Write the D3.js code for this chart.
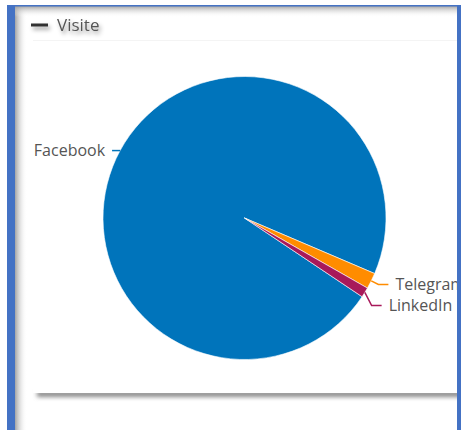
<!DOCTYPE html>
<html>
<head>
<meta charset="utf-8">
<script src="https://cdn.jsdelivr.net/npm/d3@7"></script>
<style>
  html, body { margin: 0; padding: 0; background: #fff; }
  svg { display: block; }
</style>
</head>
<body>
<div id="chart"></div>
<script>
// ---- data ----
const seriesName = "Visite";
const categories = ["Facebook", "Telegram", "LinkedIn"];
const values = [1700, 32, 20];
const colors = ["#0074bb", "#ff8c00", "#a8195a"];

const W = 461, H = 430;
const svg = d3.select("#chart").append("svg").attr("width", W).attr("height", H);
const defs = svg.append("defs");

// filters / gradients
const fBlur = defs.append("filter").attr("id", "blurShadow")
  .attr("x", "-5%").attr("y", "-200%").attr("width", "110%").attr("height", "500%");
fBlur.append("feGaussianBlur").attr("stdDeviation", 2.2);

const fText = defs.append("filter").attr("id", "textShadow")
  .attr("x", "-30%").attr("y", "-50%").attr("width", "160%").attr("height", "220%");
fText.append("feDropShadow").attr("dx", 2).attr("dy", 3).attr("stdDeviation", 2.2)
  .attr("flood-color", "#000").attr("flood-opacity", 0.4);

const gLeft = defs.append("linearGradient").attr("id", "gLeft").attr("x1", 0).attr("x2", 1).attr("y1", 0).attr("y2", 0);
gLeft.append("stop").attr("offset", "0%").attr("stop-color", "#9a9a9a").attr("stop-opacity", 0.9);
gLeft.append("stop").attr("offset", "100%").attr("stop-color", "#ffffff").attr("stop-opacity", 0);
const gTop = defs.append("linearGradient").attr("id", "gTop").attr("x1", 0).attr("x2", 0).attr("y1", 0).attr("y2", 1);
gTop.append("stop").attr("offset", "0%").attr("stop-color", "#9a9a9a").attr("stop-opacity", 0.9);
gTop.append("stop").attr("offset", "100%").attr("stop-color", "#ffffff").attr("stop-opacity", 0);

// card bottom shadow
svg.append("rect").attr("x", 37).attr("y", 391).attr("width", 430).attr("height", 6)
  .attr("fill", "#8a8a8a").attr("filter", "url(#blurShadow)");
svg.append("rect").attr("x", 33).attr("y", 40).attr("width", 440).attr("height", 353)
  .attr("fill", "#fff");
svg.append("rect").attr("x", 33).attr("y", 40).attr("width", 440).attr("height", 1)
  .attr("fill", "#f4f4f4");

// inner frame shadows
svg.append("rect").attr("x", 15).attr("y", 6).attr("width", 12).attr("height", H - 6).attr("fill", "url(#gLeft)");
svg.append("rect").attr("x", 15).attr("y", 6).attr("width", W - 19).attr("height", 11).attr("fill", "url(#gTop)");

// legend
const lg = svg.append("g").attr("filter", "url(#textShadow)");
lg.append("line").attr("x1", 31).attr("x2", 48).attr("y1", 25).attr("y2", 25)
  .attr("stroke", "#333").attr("stroke-width", 3);
lg.append("text").attr("x", 57).attr("y", 25).attr("dy", "0.35em")
  .attr("font-family", "'Open Sans', sans-serif").attr("font-size", 17)
  .attr("fill", "#555").text(seriesName);

// pie
const cx = 244.5, cy = 218, r = 141.5;
const start = -236.2 * Math.PI / 180;
const pie = d3.pie().sort(null).value(d => d.v).startAngle(start).endAngle(start + 2 * Math.PI);
const data = pie(categories.map((c, i) => ({ c, v: values[i], col: colors[i] })));
const arc = d3.arc().innerRadius(0).outerRadius(r);
const g = svg.append("g").attr("transform", `translate(${cx},${cy})`);
g.selectAll("path.slice").data(data).join("path")
  .attr("class", "slice").attr("d", arc)
  .attr("fill", d => d.data.col).attr("stroke", "#fff").attr("stroke-width", 0.6)
  .attr("stroke-linejoin", "round");

// labels with connectors
const pts = data.map(d => {
  const a = (d.startAngle + d.endAngle) / 2;
  const sx = Math.sin(a), sy = -Math.cos(a);
  const right = sx > 0;
  return {
    d, right,
    p0: [sx * r, sy * r],
    p1: right ? [sx * (r + 8), sy * (r + 8)] : [sx * (r + 8), sy * r]
  };
});
// avoid overlaps per side
["left", "right"].forEach(side => {
  const arr = pts.filter(p => (side === "right") === p.right).sort((a, b) => a.p1[1] - b.p1[1]);
  for (let i = 1; i < arr.length; i++) {
    if (arr[i].p1[1] - arr[i - 1].p1[1] < 21) arr[i].p1[1] = arr[i - 1].p1[1] + 21;
  }
});
pts.forEach(p => {
  const dir = p.right ? 1 : -1;
  const p2 = [p.p1[0] + dir * (p.right ? 10 : 1), p.p1[1]];
  g.append("path")
    .attr("d", d3.line()([p.p0, p.p1, p2]))
    .attr("fill", "none").attr("stroke", p.d.data.col).attr("stroke-width", 1.5);
  g.append("text")
    .attr("x", p2[0] + dir * 7).attr("y", p2[1]).attr("dy", "0.35em")
    .attr("text-anchor", p.right ? "start" : "end")
    .attr("font-family", "'Open Sans', sans-serif").attr("font-size", 16)
    .attr("fill", "#555").text(p.d.data.c);
});

// blue frame
svg.append("rect").attr("x", 7).attr("y", 5).attr("width", W - 7).attr("height", 1.5).attr("fill", "#4472c4");
svg.append("rect").attr("x", 7).attr("y", 5).attr("width", 8).attr("height", H - 5).attr("fill", "#4472c4");
svg.append("rect").attr("x", 457).attr("y", 5).attr("width", 4).attr("height", H - 5).attr("fill", "#4472c4");
</script>
</body>
</html>
